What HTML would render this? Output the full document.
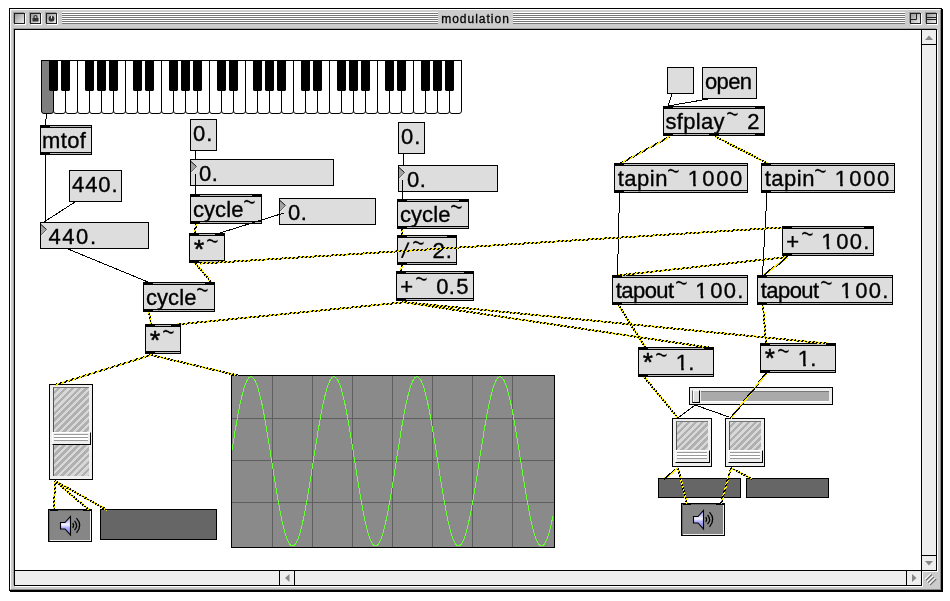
<!DOCTYPE html><html lang="en"><head><meta charset="utf-8"><title>modulation</title><style>
html,body{margin:0;padding:0;background:#fff;}
body{width:950px;height:601px;position:relative;overflow:hidden;font-family:"Liberation Sans",sans-serif;}
*{box-sizing:border-box;}
#win{position:absolute;left:9px;top:8px;width:933px;height:583px;background:#ccc;border:1px solid #000;box-shadow:1px 1px 0 #000;}
#win:before{content:"";position:absolute;left:0;top:0;right:0;bottom:0;border-left:1px solid #fff;border-top:1px solid #fff;border-right:1px solid #888;border-bottom:1px solid #888;}
#tb{position:absolute;left:0;top:0;width:931px;height:20px;}
.st{position:absolute;top:3px;height:12px;background:repeating-linear-gradient(to bottom,#fff 0,#fff 1px,#777 1px,#777 2px);}
.wb svg{position:absolute;left:0;top:0;}
.wb{position:absolute;top:4px;width:11px;height:11px;border:1px solid #222;background:linear-gradient(135deg,#999,#eee);box-shadow:1px 1px 0 #fff,-1px -1px 0 #999;}
#ttl{-webkit-text-stroke:0.3px #000;will-change:transform;position:absolute;left:428px;top:2px;width:75px;height:16px;font-size:12px;line-height:16px;letter-spacing:1px;text-align:center;color:#000;white-space:nowrap;}
#cv{position:absolute;left:14px;top:29px;width:923px;height:557px;border:1px solid #000;background:#fff;box-shadow:-1px -1px 0 #a0a0a0,1px 1px 0 #fff;}
#vs{position:absolute;left:921px;top:29px;width:16px;height:542px;border:1px solid #000;background:#eee;}
#hs{position:absolute;left:14px;top:570px;width:908px;height:16px;border:1px solid #000;background:#eee;}
#grow{position:absolute;left:922px;top:571px;width:18px;height:18px;background:#ccc;}
#grow svg{position:absolute;left:0;top:0;}
.sep{position:absolute;background:#000;}
*:before,*:after{box-sizing:border-box;}
.ob{position:absolute;background:#dddddd;border:1px solid #000;}
.ob:before{content:"";position:absolute;left:0;right:0;top:0;height:2px;background:#bbb;border-bottom:1px solid #000;}
.ob:after{content:"";position:absolute;left:0;right:0;bottom:0;height:2px;background:#bbb;border-top:1px solid #000;}
.io{position:absolute;width:10px;height:3px;background:#000;margin:-1px;z-index:2;}
.mb{position:absolute;background:#dddddd;border:1px solid #000;}
.fn{position:absolute;background:#dddddd;border:1px solid #000;}
.tri{position:absolute;left:0;top:1px;}
.gn{position:absolute;background:#eee;border:1px solid #000;}
.gs{position:absolute;left:3px;top:2px;right:3px;bottom:3px;border-left:1px solid #555;border-top:1px solid #777;background:repeating-linear-gradient(135deg,#d8d8d8 0,#d8d8d8 2.3px,#b0b0b0 2.3px,#b0b0b0 4.9px);}
.gk{position:absolute;left:2px;right:1px;background:#eee;border-top:1px solid #fff;border-left:1px solid #fff;border-right:1px solid #000;border-bottom:1px solid #000;}
.gk:before{content:"";position:absolute;left:1px;right:2px;top:1px;height:7px;background:linear-gradient(to bottom,#999 0,#999 1px,#fff 1px,#fff 3px,#999 3px,#999 4px,#fff 4px,#fff 6px,#999 6px,#999 7px);}
.mt{position:absolute;background:#666;border:1px solid #000;}
.dac{position:absolute;width:44px;height:33px;background:#868686;border:1px solid #000;}
.dac svg{position:absolute;left:-1px;top:-1px;}
#hsl{position:absolute;left:689px;top:387px;width:144px;height:18px;border:1px solid #000;background:#eee;}
#hsl .tr{position:absolute;left:11px;top:3px;right:3px;height:11px;background:#aaa;border-top:1px solid #777;border-bottom:1px solid #fff;}
#hsl .kn{position:absolute;left:2px;top:2px;width:8px;height:13px;background:#ddd;border-left:1px solid #666;border-top:1px solid #fff;border-right:1px solid #000;border-bottom:1px solid #000;box-shadow:inset 1px 0 0 #fff;}
svg text{font-family:"Liberation Sans",sans-serif;font-size:22px;fill:#000;stroke:#000;stroke-width:0.35px;}
.c{stroke:#000;stroke-width:1;shape-rendering:crispEdges;}
.sk{stroke:url(#hatch);stroke-width:2;shape-rendering:crispEdges;}
svg .tl{stroke:#ddd;stroke-width:0.45px;}
svg .sl{stroke-width:0.2px;}
svg .as{stroke-width:0.6px;stroke-linejoin:round;}
#ov{position:absolute;left:0;top:0;will-change:transform;}
</style></head><body>
<div id="win"><div id="tb"><div class="st" style="left:52px;width:376px"></div><div class="st" style="left:503px;width:392px"></div><div class="wb" style="left:4px"></div><div class="wb" style="left:20px"><svg width="9" height="9" viewBox="0 0 9 9"><rect x="1.500" y="4" width="6" height="3.500" fill="#333"/><path d="M3 4V3q0 -1.500 1.500 -1.500T6 3V4" fill="none" stroke="#333" stroke-width="1.200"/></svg></div><div class="wb" style="left:36px"><svg width="9" height="9" viewBox="0 0 9 9"><circle cx="4.500" cy="4.700" r="2.900" fill="#333"/><rect x="4" y="1.500" width="1" height="3" fill="#eee"/></svg></div><div class="wb" style="left:900px"><svg width="9" height="9" viewBox="0 0 9 9"><path d="M5.500 0V5.500H0" fill="none" stroke="#222" stroke-width="1"/></svg></div><div class="wb" style="left:916px"><svg width="9" height="9" viewBox="0 0 9 9"><path d="M0 3.500H9M0 5.500H9" fill="none" stroke="#222" stroke-width="1"/></svg></div><div id="ttl">modulation</div></div></div>
<div id="cv"></div>
<div id="vs"><div class="sep" style="left:0;top:14px;width:14px;height:1px"></div><div class="sep" style="left:0;top:525px;width:14px;height:1px"></div><svg width="14" height="540" style="position:absolute;left:0;top:0"><path d="M3 10l4-4.500l4 4.500z" fill="#888"/><path d="M3 531l4 4.500l4-4.500z" fill="#888"/></svg></div>
<div id="hs"><div class="sep" style="left:264px;top:0;width:1px;height:14px"></div><div class="sep" style="left:279px;top:0;width:1px;height:14px"></div><div class="sep" style="left:891px;top:0;width:1px;height:14px"></div><svg width="906" height="14" style="position:absolute;left:0;top:0"><path d="M274.500 3l-4.500 4l4.500 4z" fill="#888"/><path d="M897 3l4.500 4l-4.500 4z" fill="#888"/></svg></div>
<div id="grow"><svg width="18" height="18" viewBox="0 0 18 18"><path d="M0.500 16V0.500H16" stroke="#fff" stroke-width="1" fill="none"/><path d="M3 8.500L9 2.700M5.200 10.800L11.200 5M7.400 13L13.400 7.200" stroke="#fff" stroke-width="1.100" fill="none"/><path d="M3.800 9.300L9.800 3.500M6 11.600L12 5.800M8.200 13.800L14.200 8" stroke="#666" stroke-width="1.100" fill="none"/></svg></div>
<svg id="kb" width="950" height="601" style="position:absolute;left:0;top:0"><path d="M41.5 60.5V111q0 2.500 2.500 2.500h7q2.500 0 2.500 -2.500V60.5" fill="#7e7e7e" stroke="#000" stroke-width="1"/><path d="M53.5 60.5V111q0 2.500 2.500 2.500h7q2.500 0 2.500 -2.500V60.5" fill="#fff" stroke="#000" stroke-width="1"/><path d="M65.5 60.5V111q0 2.500 2.500 2.500h7q2.500 0 2.500 -2.500V60.5" fill="#fff" stroke="#000" stroke-width="1"/><path d="M77.5 60.5V111q0 2.500 2.500 2.500h7q2.500 0 2.500 -2.500V60.5" fill="#fff" stroke="#000" stroke-width="1"/><path d="M89.5 60.5V111q0 2.500 2.500 2.500h7q2.500 0 2.500 -2.500V60.5" fill="#fff" stroke="#000" stroke-width="1"/><path d="M101.5 60.5V111q0 2.500 2.500 2.500h7q2.500 0 2.500 -2.500V60.5" fill="#fff" stroke="#000" stroke-width="1"/><path d="M113.5 60.5V111q0 2.500 2.500 2.500h7q2.500 0 2.500 -2.500V60.5" fill="#fff" stroke="#000" stroke-width="1"/><path d="M125.5 60.5V111q0 2.500 2.500 2.500h7q2.500 0 2.500 -2.500V60.5" fill="#fff" stroke="#000" stroke-width="1"/><path d="M137.5 60.5V111q0 2.500 2.500 2.500h7q2.500 0 2.500 -2.500V60.5" fill="#fff" stroke="#000" stroke-width="1"/><path d="M149.5 60.5V111q0 2.500 2.500 2.500h7q2.500 0 2.500 -2.500V60.5" fill="#fff" stroke="#000" stroke-width="1"/><path d="M161.5 60.5V111q0 2.500 2.500 2.500h7q2.500 0 2.500 -2.500V60.5" fill="#fff" stroke="#000" stroke-width="1"/><path d="M173.5 60.5V111q0 2.500 2.500 2.500h7q2.500 0 2.500 -2.500V60.5" fill="#fff" stroke="#000" stroke-width="1"/><path d="M185.5 60.5V111q0 2.500 2.500 2.500h7q2.500 0 2.500 -2.500V60.5" fill="#fff" stroke="#000" stroke-width="1"/><path d="M197.5 60.5V111q0 2.500 2.500 2.500h7q2.500 0 2.500 -2.500V60.5" fill="#fff" stroke="#000" stroke-width="1"/><path d="M209.5 60.5V111q0 2.500 2.500 2.500h7q2.500 0 2.500 -2.500V60.5" fill="#fff" stroke="#000" stroke-width="1"/><path d="M221.5 60.5V111q0 2.500 2.500 2.500h7q2.500 0 2.500 -2.500V60.5" fill="#fff" stroke="#000" stroke-width="1"/><path d="M233.5 60.5V111q0 2.500 2.500 2.500h7q2.500 0 2.500 -2.500V60.5" fill="#fff" stroke="#000" stroke-width="1"/><path d="M245.5 60.5V111q0 2.500 2.500 2.500h7q2.500 0 2.500 -2.500V60.5" fill="#fff" stroke="#000" stroke-width="1"/><path d="M257.5 60.5V111q0 2.500 2.500 2.500h7q2.500 0 2.500 -2.500V60.5" fill="#fff" stroke="#000" stroke-width="1"/><path d="M269.5 60.5V111q0 2.500 2.500 2.500h7q2.500 0 2.500 -2.500V60.5" fill="#fff" stroke="#000" stroke-width="1"/><path d="M281.5 60.5V111q0 2.500 2.500 2.500h7q2.500 0 2.500 -2.500V60.5" fill="#fff" stroke="#000" stroke-width="1"/><path d="M293.5 60.5V111q0 2.500 2.500 2.500h7q2.500 0 2.500 -2.500V60.5" fill="#fff" stroke="#000" stroke-width="1"/><path d="M305.5 60.5V111q0 2.500 2.500 2.500h7q2.500 0 2.500 -2.500V60.5" fill="#fff" stroke="#000" stroke-width="1"/><path d="M317.5 60.5V111q0 2.500 2.500 2.500h7q2.500 0 2.500 -2.500V60.5" fill="#fff" stroke="#000" stroke-width="1"/><path d="M329.5 60.5V111q0 2.500 2.500 2.500h7q2.500 0 2.500 -2.500V60.5" fill="#fff" stroke="#000" stroke-width="1"/><path d="M341.5 60.5V111q0 2.500 2.500 2.500h7q2.500 0 2.500 -2.500V60.5" fill="#fff" stroke="#000" stroke-width="1"/><path d="M353.5 60.5V111q0 2.500 2.500 2.500h7q2.500 0 2.500 -2.500V60.5" fill="#fff" stroke="#000" stroke-width="1"/><path d="M365.5 60.5V111q0 2.500 2.500 2.500h7q2.500 0 2.500 -2.500V60.5" fill="#fff" stroke="#000" stroke-width="1"/><path d="M377.5 60.5V111q0 2.500 2.500 2.500h7q2.500 0 2.500 -2.500V60.5" fill="#fff" stroke="#000" stroke-width="1"/><path d="M389.5 60.5V111q0 2.500 2.500 2.500h7q2.500 0 2.500 -2.500V60.5" fill="#fff" stroke="#000" stroke-width="1"/><path d="M401.5 60.5V111q0 2.500 2.500 2.500h7q2.500 0 2.500 -2.500V60.5" fill="#fff" stroke="#000" stroke-width="1"/><path d="M413.5 60.5V111q0 2.500 2.500 2.500h7q2.500 0 2.500 -2.500V60.5" fill="#fff" stroke="#000" stroke-width="1"/><path d="M425.5 60.5V111q0 2.500 2.500 2.500h7q2.500 0 2.500 -2.500V60.5" fill="#fff" stroke="#000" stroke-width="1"/><path d="M437.5 60.5V111q0 2.500 2.500 2.500h7q2.500 0 2.500 -2.500V60.5" fill="#fff" stroke="#000" stroke-width="1"/><path d="M449.5 60.5V111q0 2.500 2.500 2.500h7q2.500 0 2.500 -2.500V60.5" fill="#fff" stroke="#000" stroke-width="1"/><rect x="41" y="60" width="421" height="1" fill="#000"/><path d="M49 61h9v29l-1 1h-7l-1 -1z" fill="#000"/><path d="M61 61h9v29l-1 1h-7l-1 -1z" fill="#000"/><path d="M85 61h9v29l-1 1h-7l-1 -1z" fill="#000"/><path d="M97 61h9v29l-1 1h-7l-1 -1z" fill="#000"/><path d="M109 61h9v29l-1 1h-7l-1 -1z" fill="#000"/><path d="M133 61h9v29l-1 1h-7l-1 -1z" fill="#000"/><path d="M145 61h9v29l-1 1h-7l-1 -1z" fill="#000"/><path d="M169 61h9v29l-1 1h-7l-1 -1z" fill="#000"/><path d="M181 61h9v29l-1 1h-7l-1 -1z" fill="#000"/><path d="M193 61h9v29l-1 1h-7l-1 -1z" fill="#000"/><path d="M217 61h9v29l-1 1h-7l-1 -1z" fill="#000"/><path d="M229 61h9v29l-1 1h-7l-1 -1z" fill="#000"/><path d="M253 61h9v29l-1 1h-7l-1 -1z" fill="#000"/><path d="M265 61h9v29l-1 1h-7l-1 -1z" fill="#000"/><path d="M277 61h9v29l-1 1h-7l-1 -1z" fill="#000"/><path d="M301 61h9v29l-1 1h-7l-1 -1z" fill="#000"/><path d="M313 61h9v29l-1 1h-7l-1 -1z" fill="#000"/><path d="M337 61h9v29l-1 1h-7l-1 -1z" fill="#000"/><path d="M349 61h9v29l-1 1h-7l-1 -1z" fill="#000"/><path d="M361 61h9v29l-1 1h-7l-1 -1z" fill="#000"/><path d="M385 61h9v29l-1 1h-7l-1 -1z" fill="#000"/><path d="M397 61h9v29l-1 1h-7l-1 -1z" fill="#000"/><path d="M421 61h9v29l-1 1h-7l-1 -1z" fill="#000"/><path d="M433 61h9v29l-1 1h-7l-1 -1z" fill="#000"/><path d="M445 61h9v29l-1 1h-7l-1 -1z" fill="#000"/><rect x="231.5" y="375.5" width="323" height="172" fill="#8a8a8a" stroke="#000"/><rect x="272" y="376" width="1" height="171" fill="#5e5e5e"/><rect x="312" y="376" width="1" height="171" fill="#5e5e5e"/><rect x="352" y="376" width="1" height="171" fill="#5e5e5e"/><rect x="392" y="376" width="1" height="171" fill="#5e5e5e"/><rect x="432" y="376" width="1" height="171" fill="#5e5e5e"/><rect x="472" y="376" width="1" height="171" fill="#5e5e5e"/><rect x="512" y="376" width="1" height="171" fill="#5e5e5e"/><rect x="232" y="418" width="322" height="1" fill="#5e5e5e"/><rect x="232" y="460" width="322" height="1" fill="#5e5e5e"/><rect x="232" y="502" width="322" height="1" fill="#5e5e5e"/><polyline points="232.0,450.1 233.0,443.8 234.0,437.6 235.0,431.5 236.0,425.6 237.0,419.9 238.0,414.5 239.0,409.3 240.0,404.4 241.0,399.8 242.0,395.6 243.0,391.7 244.0,388.3 245.0,385.3 246.0,382.7 247.0,380.5 248.0,378.9 249.0,377.7 250.0,376.9 251.0,376.7 252.0,376.9 253.0,377.7 254.0,378.9 255.0,380.5 256.0,382.7 257.0,385.3 258.0,388.3 259.0,391.7 260.0,395.6 261.0,399.8 262.0,404.4 263.0,409.3 264.0,414.5 265.0,419.9 266.0,425.6 267.0,431.5 268.0,437.6 269.0,443.8 270.0,450.1 271.0,456.5 272.0,462.9 273.0,469.3 274.0,475.6 275.0,481.9 276.0,488.1 277.0,494.0 278.0,499.9 279.0,505.4 280.0,510.8 281.0,515.8 282.0,520.6 283.0,524.9 284.0,529.0 285.0,532.6 286.0,535.9 287.0,538.7 288.0,541.0 289.0,542.9 290.0,544.4 291.0,545.4 292.0,545.8 293.0,545.8 294.0,545.4 295.0,544.4 296.0,542.9 297.0,541.0 298.0,538.7 299.0,535.9 300.0,532.6 301.0,529.0 302.0,524.9 303.0,520.6 304.0,515.8 305.0,510.8 306.0,505.4 307.0,499.9 308.0,494.0 309.0,488.1 310.0,481.9 311.0,475.6 312.0,469.3 313.0,462.9 314.0,456.5 315.0,450.1 316.0,443.8 317.0,437.6 318.0,431.5 319.0,425.6 320.0,419.9 321.0,414.5 322.0,409.3 323.0,404.4 324.0,399.8 325.0,395.6 326.0,391.7 327.0,388.3 328.0,385.3 329.0,382.7 330.0,380.5 331.0,378.9 332.0,377.7 333.0,376.9 334.0,376.7 335.0,376.9 336.0,377.7 337.0,378.9 338.0,380.5 339.0,382.7 340.0,385.3 341.0,388.3 342.0,391.7 343.0,395.6 344.0,399.8 345.0,404.4 346.0,409.3 347.0,414.5 348.0,419.9 349.0,425.6 350.0,431.5 351.0,437.6 352.0,443.8 353.0,450.1 354.0,456.5 355.0,462.9 356.0,469.3 357.0,475.6 358.0,481.9 359.0,488.1 360.0,494.0 361.0,499.9 362.0,505.4 363.0,510.8 364.0,515.8 365.0,520.6 366.0,524.9 367.0,529.0 368.0,532.6 369.0,535.9 370.0,538.7 371.0,541.0 372.0,542.9 373.0,544.4 374.0,545.4 375.0,545.8 376.0,545.8 377.0,545.4 378.0,544.4 379.0,542.9 380.0,541.0 381.0,538.7 382.0,535.9 383.0,532.6 384.0,529.0 385.0,524.9 386.0,520.6 387.0,515.8 388.0,510.8 389.0,505.4 390.0,499.9 391.0,494.0 392.0,488.1 393.0,481.9 394.0,475.6 395.0,469.3 396.0,462.9 397.0,456.5 398.0,450.1 399.0,443.8 400.0,437.6 401.0,431.5 402.0,425.6 403.0,419.9 404.0,414.5 405.0,409.3 406.0,404.4 407.0,399.8 408.0,395.6 409.0,391.7 410.0,388.3 411.0,385.3 412.0,382.7 413.0,380.5 414.0,378.9 415.0,377.7 416.0,376.9 417.0,376.7 418.0,376.9 419.0,377.7 420.0,378.9 421.0,380.5 422.0,382.7 423.0,385.3 424.0,388.3 425.0,391.7 426.0,395.6 427.0,399.8 428.0,404.4 429.0,409.3 430.0,414.5 431.0,419.9 432.0,425.6 433.0,431.5 434.0,437.6 435.0,443.8 436.0,450.1 437.0,456.5 438.0,462.9 439.0,469.3 440.0,475.6 441.0,481.9 442.0,488.1 443.0,494.0 444.0,499.9 445.0,505.4 446.0,510.8 447.0,515.8 448.0,520.6 449.0,524.9 450.0,529.0 451.0,532.6 452.0,535.9 453.0,538.7 454.0,541.0 455.0,542.9 456.0,544.4 457.0,545.4 458.0,545.8 459.0,545.8 460.0,545.4 461.0,544.4 462.0,542.9 463.0,541.0 464.0,538.7 465.0,535.9 466.0,532.6 467.0,529.0 468.0,524.9 469.0,520.6 470.0,515.8 471.0,510.8 472.0,505.4 473.0,499.9 474.0,494.0 475.0,488.1 476.0,481.9 477.0,475.6 478.0,469.3 479.0,462.9 480.0,456.5 481.0,450.1 482.0,443.8 483.0,437.6 484.0,431.5 485.0,425.6 486.0,419.9 487.0,414.5 488.0,409.3 489.0,404.4 490.0,399.8 491.0,395.6 492.0,391.7 493.0,388.3 494.0,385.3 495.0,382.7 496.0,380.5 497.0,378.9 498.0,377.7 499.0,376.9 500.0,376.7 501.0,376.9 502.0,377.7 503.0,378.9 504.0,380.5 505.0,382.7 506.0,385.3 507.0,388.3 508.0,391.7 509.0,395.6 510.0,399.8 511.0,404.4 512.0,409.3 513.0,414.5 514.0,419.9 515.0,425.6 516.0,431.5 517.0,437.6 518.0,443.8 519.0,450.1 520.0,456.5 521.0,462.9 522.0,469.3 523.0,475.6 524.0,481.9 525.0,488.1 526.0,494.0 527.0,499.9 528.0,505.4 529.0,510.8 530.0,515.8 531.0,520.6 532.0,524.9 533.0,529.0 534.0,532.6 535.0,535.9 536.0,538.7 537.0,541.0 538.0,542.9 539.0,544.4 540.0,545.4 541.0,545.8 542.0,545.8 543.0,545.4 544.0,544.4 545.0,542.9 546.0,541.0 547.0,538.7 548.0,535.9 549.0,532.6 550.0,529.0 551.0,524.9 552.0,520.6 553.0,515.8" fill="none" stroke="#66ff33" stroke-width="1" shape-rendering="crispEdges"/></svg>
<div class="ob" style="left:40px;top:125px;width:52px;height:30px"><i class="io" style="left:0px;top:0"></i><i class="io" style="left:0px;bottom:0"></i></div><div class="ob" style="left:190px;top:194px;width:72px;height:30px"><i class="io" style="left:0px;top:0"></i><i class="io" style="left:62px;top:0"></i><i class="io" style="left:0px;bottom:0"></i></div><div class="ob" style="left:189px;top:233px;width:36px;height:30px"><i class="io" style="left:0px;top:0"></i><i class="io" style="left:26px;top:0"></i><i class="io" style="left:0px;bottom:0"></i></div><div class="ob" style="left:143px;top:282px;width:72px;height:30px"><i class="io" style="left:0px;top:0"></i><i class="io" style="left:62px;top:0"></i><i class="io" style="left:0px;bottom:0"></i></div><div class="ob" style="left:145px;top:324px;width:36px;height:30px"><i class="io" style="left:0px;top:0"></i><i class="io" style="left:26px;top:0"></i><i class="io" style="left:0px;bottom:0"></i></div><div class="ob" style="left:397px;top:199px;width:72px;height:30px"><i class="io" style="left:0px;top:0"></i><i class="io" style="left:62px;top:0"></i><i class="io" style="left:0px;bottom:0"></i></div><div class="ob" style="left:397px;top:235px;width:60px;height:30px"><i class="io" style="left:0px;top:0"></i><i class="io" style="left:50px;top:0"></i><i class="io" style="left:0px;bottom:0"></i></div><div class="ob" style="left:396px;top:271px;width:78px;height:30px"><i class="io" style="left:0px;top:0"></i><i class="io" style="left:68px;top:0"></i><i class="io" style="left:0px;bottom:0"></i></div><div class="ob" style="left:663px;top:106px;width:102px;height:30px"><i class="io" style="left:0px;top:0"></i><i class="io" style="left:92px;top:0"></i><i class="io" style="left:0px;bottom:0"></i><i class="io" style="left:46px;bottom:0"></i><i class="io" style="left:92px;bottom:0"></i></div><div class="ob" style="left:614px;top:163px;width:134px;height:30px"><i class="io" style="left:0px;top:0"></i><i class="io" style="left:0px;bottom:0"></i></div><div class="ob" style="left:761px;top:163px;width:134px;height:30px"><i class="io" style="left:0px;top:0"></i><i class="io" style="left:0px;bottom:0"></i></div><div class="ob" style="left:782px;top:226px;width:92px;height:30px"><i class="io" style="left:0px;top:0"></i><i class="io" style="left:82px;top:0"></i><i class="io" style="left:0px;bottom:0"></i></div><div class="ob" style="left:612px;top:275px;width:136px;height:30px"><i class="io" style="left:0px;top:0"></i><i class="io" style="left:0px;bottom:0"></i></div><div class="ob" style="left:757px;top:275px;width:136px;height:30px"><i class="io" style="left:0px;top:0"></i><i class="io" style="left:0px;bottom:0"></i></div><div class="ob" style="left:638px;top:347px;width:76px;height:30px"><i class="io" style="left:0px;top:0"></i><i class="io" style="left:66px;top:0"></i><i class="io" style="left:0px;bottom:0"></i></div><div class="ob" style="left:760px;top:343px;width:76px;height:30px"><i class="io" style="left:0px;top:0"></i><i class="io" style="left:66px;top:0"></i><i class="io" style="left:0px;bottom:0"></i></div><div class="mb" style="left:190px;top:119px;width:27px;height:32px"></div><div class="mb" style="left:69px;top:170px;width:53px;height:32px"></div><div class="mb" style="left:398px;top:122px;width:27px;height:32px"></div><div class="mb" style="left:702px;top:67px;width:55px;height:32px"></div><div class="mb" style="left:667px;top:67px;width:27px;height:27px"></div><div class="fn" style="left:190px;top:159px;width:144px;height:27px"><svg class="tri" width="7" height="12" viewBox="0 0 7 12"><path d="M0 0L5.500 5.500L0 11z" fill="#a4a4a4"/><path d="M0 0.500L5.500 5.500" stroke="#111" fill="none"/><path d="M5.500 5.500L0 11" stroke="#666" fill="none"/><path d="M5.500 7L1 11.500" stroke="#f4f4f4" stroke-width="0.700" fill="none"/></svg></div><div class="fn" style="left:40px;top:222px;width:109px;height:27px"><svg class="tri" width="7" height="12" viewBox="0 0 7 12"><path d="M0 0L5.500 5.500L0 11z" fill="#a4a4a4"/><path d="M0 0.500L5.500 5.500" stroke="#111" fill="none"/><path d="M5.500 5.500L0 11" stroke="#666" fill="none"/><path d="M5.500 7L1 11.500" stroke="#f4f4f4" stroke-width="0.700" fill="none"/></svg></div><div class="fn" style="left:279px;top:198px;width:97px;height:27px"><svg class="tri" width="7" height="12" viewBox="0 0 7 12"><path d="M0 0L5.500 5.500L0 11z" fill="#a4a4a4"/><path d="M0 0.500L5.500 5.500" stroke="#111" fill="none"/><path d="M5.500 5.500L0 11" stroke="#666" fill="none"/><path d="M5.500 7L1 11.500" stroke="#f4f4f4" stroke-width="0.700" fill="none"/></svg></div><div class="fn" style="left:398px;top:165px;width:100px;height:27px"><svg class="tri" width="7" height="12" viewBox="0 0 7 12"><path d="M0 0L5.500 5.500L0 11z" fill="#a4a4a4"/><path d="M0 0.500L5.500 5.500" stroke="#111" fill="none"/><path d="M5.500 5.500L0 11" stroke="#666" fill="none"/><path d="M5.500 7L1 11.500" stroke="#f4f4f4" stroke-width="0.700" fill="none"/></svg></div>
<div class="gn" style="left:49px;top:384px;width:44px;height:96px"><div class="gs"></div><div class="gk" style="top:47px;height:13px"></div></div>
<div class="gn" style="left:672px;top:418px;width:40px;height:49px"><div class="gs"></div><div class="gk" style="top:31px;height:13px"></div></div>
<div class="gn" style="left:725px;top:418px;width:40px;height:49px"><div class="gs"></div><div class="gk" style="top:31px;height:13px"></div></div>
<div class="mt" style="left:658px;top:478px;width:83px;height:20px"></div>
<div class="mt" style="left:746px;top:478px;width:83px;height:20px"></div>
<div class="mt" style="left:100px;top:509px;width:117px;height:31px"></div>
<div class="dac" style="left:681px;top:503px"><svg width="44" height="33" viewBox="0 0 44 33"><rect x="0" y="0" width="10" height="2" fill="#000"/><rect x="35" y="0" width="9" height="2" fill="#000"/><rect x="1" y="1" width="1" height="31" fill="#666"/><rect x="10" y="1" width="25" height="1" fill="#666"/><rect x="42" y="2" width="1" height="30" fill="#eee"/><rect x="2" y="31" width="41" height="1" fill="#eee"/><path d="M12.500 13.500h4.500l5.500-6v18.500l-5.500-6h-4.500z" fill="url(#spk)" stroke="#000" stroke-width="1.100" stroke-linejoin="miter"/><path d="M24.700 14.200q1.800 2.300 0 4.600M26.500 11.800q4.200 4.700 0 9.400M28.500 9.200q6.500 7.300 0 14.600" fill="none" stroke="#000" stroke-width="1.250"/></svg></div>
<div class="dac" style="left:48px;top:509px"><svg width="44" height="33" viewBox="0 0 44 33"><rect x="0" y="0" width="10" height="2" fill="#000"/><rect x="35" y="0" width="9" height="2" fill="#000"/><rect x="1" y="1" width="1" height="31" fill="#666"/><rect x="10" y="1" width="25" height="1" fill="#666"/><rect x="42" y="2" width="1" height="30" fill="#eee"/><rect x="2" y="31" width="41" height="1" fill="#eee"/><path d="M12.500 13.500h4.500l5.500-6v18.500l-5.500-6h-4.500z" fill="url(#spk)" stroke="#000" stroke-width="1.100" stroke-linejoin="miter"/><path d="M24.700 14.200q1.800 2.300 0 4.600M26.500 11.800q4.200 4.700 0 9.400M28.500 9.200q6.500 7.300 0 14.600" fill="none" stroke="#000" stroke-width="1.250"/></svg></div>
<div id="hsl"><div class="tr"></div><div class="kn"></div></div>
<svg id="ov" width="950" height="601" viewBox="0 0 950 601"><defs><linearGradient id="spk" x1="0" y1="0" x2="0" y2="1"><stop offset="0" stop-color="#8484ee"/><stop offset="0.45" stop-color="#f4f4ff"/><stop offset="0.6" stop-color="#b0b0ff"/><stop offset="1" stop-color="#7070dd"/></linearGradient><pattern id="hatch" width="4" height="4" patternUnits="userSpaceOnUse"><rect width="4" height="4" fill="#000"/><g fill="#ffee00" shape-rendering="crispEdges"><rect x="0" y="0" width="1" height="1"/><rect x="1" y="0" width="1" height="1"/><rect x="0" y="1" width="1" height="1"/><rect x="3" y="1" width="1" height="1"/><rect x="2" y="2" width="1" height="1"/><rect x="3" y="2" width="1" height="1"/><rect x="1" y="3" width="1" height="1"/><rect x="2" y="3" width="1" height="1"/></g></pattern></defs><text><tspan x="42.04" y="147.50" style="letter-spacing:0.37px">mtof</tspan></text>
<text><tspan x="72.00" y="191.50" style="letter-spacing:0.89px">440.</tspan></text>
<text><tspan x="48.50" y="243.50" style="letter-spacing:1.56px">440.</tspan></text>
<text><tspan x="192.96" y="140.50" style="letter-spacing:1.18px">0.</tspan></text>
<text><tspan x="198.96" y="180.50" style="letter-spacing:0.68px">0.</tspan></text>
<text><tspan x="287.96" y="219.50" style="letter-spacing:0.68px">0.</tspan></text>
<text><tspan x="400.96" y="143.50" style="letter-spacing:1.18px">0.</tspan></text>
<text><tspan x="406.96" y="186.50" style="letter-spacing:0.68px">0.</tspan></text>
<text><tspan x="705.08" y="88.50" style="letter-spacing:-0.70px">open</tspan></text>
<text><tspan x="192.88" y="216.50" style="letter-spacing:0.12px">cycle</tspan><tspan x="243.08" y="212.70" class="tl" style="font-size:33px" textLength="12.85" lengthAdjust="spacingAndGlyphs">~</tspan></text>
<text><tspan x="145.88" y="304.50" style="letter-spacing:0.12px">cycle</tspan><tspan x="196.08" y="300.70" class="tl" style="font-size:33px" textLength="12.85" lengthAdjust="spacingAndGlyphs">~</tspan></text>
<text><tspan x="399.88" y="221.50" style="letter-spacing:0.12px">cycle</tspan><tspan x="450.08" y="217.70" class="tl" style="font-size:33px" textLength="12.85" lengthAdjust="spacingAndGlyphs">~</tspan></text>
<text><tspan x="193.95" y="257.90" class="as" style="font-size:25.95px">*</tspan><tspan x="206.08" y="251.85" class="tl" style="font-size:33px" textLength="12.85" lengthAdjust="spacingAndGlyphs">~</tspan></text>
<text><tspan x="149.95" y="348.90" class="as" style="font-size:25.95px">*</tspan><tspan x="162.08" y="342.85" class="tl" style="font-size:33px" textLength="12.85" lengthAdjust="spacingAndGlyphs">~</tspan></text>
<text><tspan x="401.00" y="257.50" class="sl" rotate="8.5">/</tspan><tspan x="412.08" y="254.20" class="tl" style="font-size:33px" textLength="12.85" lengthAdjust="spacingAndGlyphs">~</tspan> <tspan x="432.40" y="257.50" style="letter-spacing:1.24px">2.</tspan></text>
<text><tspan x="400.33" y="293.50">+</tspan><tspan x="415.08" y="289.95" class="tl" style="font-size:33px" textLength="12.85" lengthAdjust="spacingAndGlyphs">~</tspan> <tspan x="436.16" y="293.50" style="letter-spacing:0.48px">0.</tspan><tspan x="456.15" y="293.50">5</tspan></text>
<text><tspan x="665.40" y="128.50" style="letter-spacing:0.33px">sfplay</tspan><tspan x="726.08" y="125.20" class="tl" style="font-size:33px" textLength="12.85" lengthAdjust="spacingAndGlyphs">~</tspan> <tspan x="747.13" y="128.50">2</tspan></text>
<text><tspan x="617.68" y="185.50" style="letter-spacing:0.51px">tapin</tspan><tspan x="667.08" y="182.20" class="tl" style="font-size:33px" textLength="12.85" lengthAdjust="spacingAndGlyphs">~</tspan> <tspan x="687.70" y="185.50">1</tspan><tspan x="702.16" y="185.50" style="letter-spacing:1.74px">000</tspan></text>
<text><tspan x="764.68" y="185.50" style="letter-spacing:0.51px">tapin</tspan><tspan x="814.08" y="182.20" class="tl" style="font-size:33px" textLength="12.85" lengthAdjust="spacingAndGlyphs">~</tspan> <tspan x="834.70" y="185.50">1</tspan><tspan x="849.16" y="185.50" style="letter-spacing:1.74px">000</tspan></text>
<text><tspan x="786.33" y="248.50">+</tspan><tspan x="801.08" y="244.95" class="tl" style="font-size:33px" textLength="12.85" lengthAdjust="spacingAndGlyphs">~</tspan> <tspan x="821.20" y="248.50">1</tspan><tspan x="836.16" y="248.50" style="letter-spacing:1.37px">00.</tspan></text>
<text><tspan x="615.68" y="297.50" style="letter-spacing:-0.54px">tapout</tspan><tspan x="675.08" y="293.95" class="tl" style="font-size:33px" textLength="12.85" lengthAdjust="spacingAndGlyphs">~</tspan> <tspan x="695.20" y="297.50">1</tspan><tspan x="710.16" y="297.50" style="letter-spacing:1.37px">00.</tspan></text>
<text><tspan x="760.68" y="297.50" style="letter-spacing:-0.54px">tapout</tspan><tspan x="820.08" y="293.95" class="tl" style="font-size:33px" textLength="12.85" lengthAdjust="spacingAndGlyphs">~</tspan> <tspan x="840.20" y="297.50">1</tspan><tspan x="855.16" y="297.50" style="letter-spacing:1.37px">00.</tspan></text>
<text><tspan x="643.12" y="371.37" class="as" style="font-size:25.10px">*</tspan><tspan x="655.08" y="365.95" class="tl" style="font-size:33px" textLength="12.85" lengthAdjust="spacingAndGlyphs">~</tspan> <tspan x="675.70" y="369.50">1</tspan><tspan x="688.19" y="369.50">.</tspan></text>
<text><tspan x="765.12" y="367.37" class="as" style="font-size:25.10px">*</tspan><tspan x="777.08" y="361.95" class="tl" style="font-size:33px" textLength="12.85" lengthAdjust="spacingAndGlyphs">~</tspan> <tspan x="797.70" y="365.50">1</tspan><tspan x="810.19" y="365.50">.</tspan></text>
<g fill="#dddddd"><rect x="688.20" y="183.20" width="5" height="4"/><rect x="695.80" y="183.20" width="4.500" height="4"/><rect x="835.20" y="183.20" width="5" height="4"/><rect x="842.80" y="183.20" width="4.500" height="4"/><rect x="821.70" y="246.20" width="5" height="4"/><rect x="829.30" y="246.20" width="4.500" height="4"/><rect x="695.70" y="295.20" width="5" height="4"/><rect x="703.30" y="295.20" width="4.500" height="4"/><rect x="840.70" y="295.20" width="5" height="4"/><rect x="848.30" y="295.20" width="4.500" height="4"/><rect x="676.20" y="367.20" width="5" height="4"/><rect x="683.80" y="367.20" width="4.500" height="4"/><rect x="798.20" y="363.20" width="5" height="4"/><rect x="805.80" y="363.20" width="4.500" height="4"/></g><line class="c" x1="46.5" y1="114" x2="45.5" y2="125"/><line class="c" x1="45.5" y1="155" x2="45.5" y2="222"/><line class="c" x1="75" y1="202" x2="44" y2="222"/><line class="c" x1="68" y1="249" x2="148" y2="282"/><line class="c" x1="195.5" y1="151" x2="195.5" y2="159"/><line class="c" x1="195.5" y1="174" x2="195.5" y2="194"/><line class="c" x1="284" y1="213" x2="220" y2="233"/><line class="c" x1="403.5" y1="154" x2="403.5" y2="166"/><line class="c" x1="402.5" y1="180" x2="402.5" y2="199"/><line class="c" x1="672" y1="94" x2="668" y2="106"/><line class="c" x1="708" y1="99" x2="668" y2="106"/><line class="c" x1="619.5" y1="193" x2="617.5" y2="275"/><line class="c" x1="767" y1="193" x2="762.5" y2="275"/><line class="c" x1="695" y1="405" x2="678" y2="418"/><line class="c" x1="695" y1="405" x2="729" y2="417"/><line class="sk" x1="196" y1="224" x2="195" y2="233"/><line class="sk" x1="200" y1="263.6" x2="790" y2="227"/><line class="sk" x1="195" y1="263" x2="211" y2="282"/><line class="sk" x1="149" y1="312" x2="151" y2="324"/><line class="sk" x1="402" y1="302.5" x2="177" y2="324.5"/><line class="sk" x1="151" y1="355" x2="55" y2="385"/><line class="sk" x1="151" y1="355" x2="238" y2="375.5"/><line class="sk" x1="402" y1="229" x2="402" y2="235"/><line class="sk" x1="402" y1="265" x2="401" y2="271"/><line class="sk" x1="402" y1="302" x2="712" y2="348"/><line class="sk" x1="402" y1="302" x2="832" y2="344"/><line class="sk" x1="670" y1="136.5" x2="620.5" y2="163.5"/><line class="sk" x1="715" y1="136.5" x2="768" y2="163.5"/><line class="sk" x1="788" y1="257" x2="617" y2="275.5"/><line class="sk" x1="788" y1="257" x2="763" y2="275.5"/><line class="sk" x1="618.5" y1="305" x2="645" y2="347"/><line class="sk" x1="763" y1="305" x2="766" y2="343"/><line class="sk" x1="644" y1="377" x2="678.5" y2="418.5"/><line class="sk" x1="766.5" y1="373" x2="730.5" y2="418.5"/><line class="sk" x1="678" y1="468" x2="664" y2="479"/><line class="sk" x1="678" y1="468" x2="687" y2="504"/><line class="sk" x1="731" y1="468" x2="721" y2="504"/><line class="sk" x1="731" y1="468" x2="752" y2="479"/><line class="sk" x1="55" y1="481" x2="54" y2="510"/><line class="sk" x1="55" y1="481" x2="89" y2="510"/><line class="sk" x1="55" y1="481" x2="107" y2="510"/></svg>
</body></html>
